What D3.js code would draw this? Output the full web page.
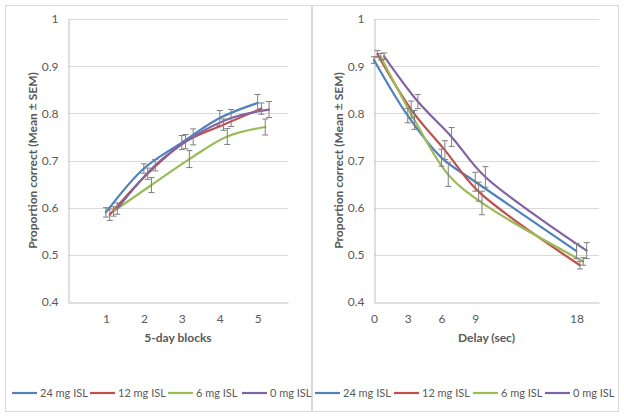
<!DOCTYPE html>
<html>
<head>
<meta charset="utf-8">
<script src="https://cdn.jsdelivr.net/npm/d3@7/dist/d3.min.js"></script>
<style>
  html, body { margin: 0; padding: 0; background: #fff; }
  svg { display: block; }
  text { font-family: Lato, "Open Sans", sans-serif; fill: #595959; }
</style>
</head>
<body>
<svg id="chart" width="624" height="418"></svg>
<script>
// ---- Data ----
const seriesNames = ["24 mg ISL", "12 mg ISL", "6 mg ISL", "0 mg ISL"];
const seriesColors = ["#4f81bd", "#c0504d", "#9bbb59", "#8064a2"];

// Left panel: 5-day blocks
const blocks = [1, 2, 3, 4, 5];
const blockOffsets = [0, 0.1, 0.2, 0.3];
const blockMean24 = [0.590, 0.683, 0.738, 0.790, 0.822];
const blockMean12 = [0.585, 0.672, 0.740, 0.776, 0.810];
const blockMean6  = [0.592, 0.648, 0.703, 0.751, 0.771];
const blockMean0  = [0.598, 0.690, 0.750, 0.790, 0.808];
const blockSem24 = [0.010, 0.010, 0.015, 0.016, 0.018];
const blockSem12 = [0.012, 0.012, 0.015, 0.012, 0.012];
const blockSem6  = [0.010, 0.016, 0.018, 0.017, 0.017];
const blockSem0  = [0.012, 0.012, 0.017, 0.018, 0.017];
const blockTicks = [1, 2, 3, 4, 5];

// Right panel: delay
const delays = [0, 3, 6, 9, 18];
const delayOffsets = [0, 0.3, 0.6, 0.9];
const delayMean24 = [0.913, 0.795, 0.706, 0.655, 0.508];
const delayMean12 = [0.926, 0.808, 0.722, 0.634, 0.478];
const delayMean6  = [0.920, 0.786, 0.670, 0.610, 0.486];
const delayMean0  = [0.921, 0.825, 0.750, 0.665, 0.509];
const delaySem24 = [0.007, 0.015, 0.018, 0.020, 0.016];
const delaySem12 = [0.007, 0.018, 0.020, 0.020, 0.008];
const delaySem6  = [0.007, 0.020, 0.025, 0.025, 0.008];
const delaySem0  = [0.007, 0.015, 0.020, 0.022, 0.017];
const delayTicks = [0, 3, 6, 9, 18];

const yTicks = [0.4, 0.5, 0.6, 0.7, 0.8, 0.9, 1];
const yTitle = "Proportion correct (Mean \u00B1 SEM)";

// ---- Drawing ----
const svg = d3.select("#chart");

function panel(cfg) {
  const g = svg.append("g");
  // chart frame
  g.append("rect")
    .attr("x", cfg.frame[0] + 0.5).attr("y", cfg.frame[1] + 0.5)
    .attr("width", cfg.frame[2]).attr("height", cfg.frame[3])
    .attr("fill", "#fff").attr("stroke", "#d9d9d9").attr("stroke-width", 1);

  const x = d3.scaleLinear().domain(cfg.xDomain).range([cfg.left, cfg.right]);
  const y = d3.scaleLinear().domain([0.4, 1]).range([cfg.bottom, cfg.top]);

  // gridlines
  g.append("g").selectAll("line").data(yTicks.filter(d => d > 0.4)).join("line")
    .attr("x1", cfg.left).attr("x2", cfg.right)
    .attr("y1", d => Math.round(y(d)) + 0.5).attr("y2", d => Math.round(y(d)) + 0.5)
    .attr("stroke", "#d9d9d9").attr("stroke-width", 1);

  // y axis
  const yAxis = g.append("g").attr("transform", `translate(${cfg.left + 0.5},0)`)
    .call(d3.axisLeft(y).tickValues(yTicks).tickSize(0).tickPadding(10).tickFormat(d3.format("~g")));
  yAxis.select(".domain").attr("stroke", "#bfbfbf");
  yAxis.selectAll("text").attr("font-size", 12).style("fill", "#595959");

  // x axis
  const xAxis = g.append("g").attr("transform", `translate(0,${Math.round(cfg.bottom) + 0.5})`)
    .call(d3.axisBottom(x).tickValues(cfg.ticks).tickSize(0).tickPadding(12).tickFormat(d3.format("d")));
  xAxis.select(".domain").attr("stroke", "#bfbfbf");
  xAxis.selectAll("text").attr("font-size", 12).style("fill", "#595959");

  // titles
  g.append("text")
    .attr("transform", `translate(${cfg.left - 35},${(cfg.top + cfg.bottom) / 2}) rotate(-90)`)
    .attr("text-anchor", "middle").attr("dy", "0.35em")
    .attr("font-size", 12).attr("font-weight", "bold")
    .text(yTitle);
  g.append("text")
    .attr("x", (cfg.left + cfg.right) / 2).attr("y", 338).attr("dy", "0.35em")
    .attr("text-anchor", "middle").attr("font-size", 12).attr("font-weight", "bold")
    .text(cfg.xTitle);

  const line = d3.line().x(d => x(d.x)).y(d => y(d.y)).curve(d3.curveCatmullRom.alpha(0.5));

  cfg.means.forEach((m, si) => {
    const pts = cfg.xs.map((xv, i) => ({ x: xv + cfg.offsets[si], y: m[i], s: cfg.sems[si][i] }));
    g.append("path").datum(pts)
      .attr("d", line).attr("fill", "none")
      .attr("stroke", seriesColors[si]).attr("stroke-width", 2.2)
      .attr("stroke-linejoin", "round").attr("stroke-linecap", "round");
  });
  // error bars on top
  cfg.means.forEach((m, si) => {
    const pts = cfg.xs.map((xv, i) => ({ x: xv + cfg.offsets[si], y: m[i], s: cfg.sems[si][i] }));
    const eb = g.append("g").attr("stroke", "#7f7f7f").attr("stroke-width", 1);
    pts.forEach(p => {
      const cx = x(p.x), y1 = y(p.y + p.s), y2 = y(p.y - p.s);
      eb.append("line").attr("x1", cx).attr("x2", cx).attr("y1", y1).attr("y2", y2);
      eb.append("line").attr("x1", cx - 3).attr("x2", cx + 3).attr("y1", y1).attr("y2", y1);
      eb.append("line").attr("x1", cx - 3).attr("x2", cx + 3).attr("y1", y2).attr("y2", y2);
    });
  });

  // legend
  const lg = g.append("g").attr("transform", `translate(0,393)`);
  cfg.legendX.forEach((lx, i) => {
    lg.append("line").attr("x1", lx).attr("x2", lx + 25).attr("y1", 0).attr("y2", 0)
      .attr("stroke", seriesColors[i]).attr("stroke-width", 2.2);
    lg.append("text").attr("x", lx + 28).attr("y", 0).attr("dy", "0.35em")
      .attr("font-size", 11).text(seriesNames[i]);
  });
}

panel({
  frame: [5, 5, 306, 406],
  left: 68, right: 288, top: 19, bottom: 302,
  xDomain: [0, 5.8], ticks: blockTicks, xs: blocks, offsets: blockOffsets,
  means: [blockMean24, blockMean12, blockMean6, blockMean0],
  sems: [blockSem24, blockSem12, blockSem6, blockSem0],
  xTitle: "5-day blocks",
  legendX: [12, 90, 168, 242]
});

panel({
  frame: [312, 5, 306, 406],
  left: 374, right: 599, top: 19, bottom: 302,
  xDomain: [0, 20], ticks: delayTicks, xs: delays, offsets: delayOffsets,
  means: [delayMean24, delayMean12, delayMean6, delayMean0],
  sems: [delaySem24, delaySem12, delaySem6, delaySem0],
  xTitle: "Delay (sec)",
  legendX: [315, 394, 473, 545]
});
</script>
</body>
</html>
